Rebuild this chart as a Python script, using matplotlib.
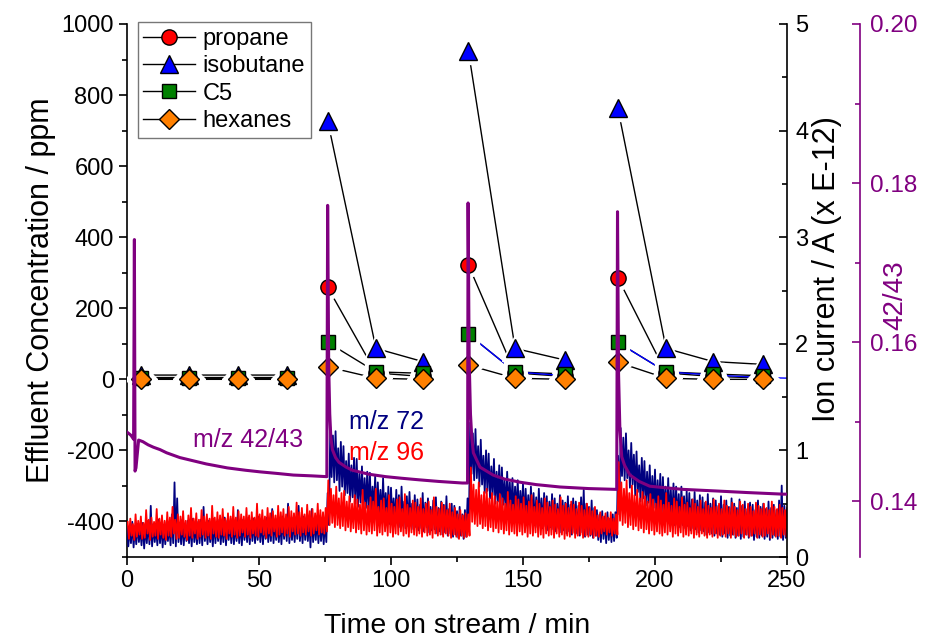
import numpy as np
import matplotlib
matplotlib.use("Agg")
import matplotlib.pyplot as plt
from matplotlib.ticker import MultipleLocator, FormatStrFormatter
from matplotlib.lines import Line2D

plt.rcParams['font.family'] = ['Liberation Sans', 'DejaVu Sans']
plt.rcParams['axes.unicode_minus'] = False

# ---------------- data ----------------
# GC injections (min); NaN separates the sampling groups
gc_time = [5.2, 23.3, 42.2, 60.5, np.nan, 76.0, 94.3, 112.0, np.nan,
           129.3, 147.0, 166.0, np.nan, 185.9, 204.2, 222.0, 241.0]
propane = [3, 3, 3, 3, np.nan, 259, 18, 8, np.nan, 322, 18, 8, np.nan, 286, 18, 8, 4]
isobutane = [12, 12, 12, 12, np.nan, 728, 87, 50, np.nan, 925, 87, 54, np.nan, 764, 87, 50, 42]
c5 = [5, 5, 5, 5, np.nan, 104, 21, 17, np.nan, 127, 21, 15, np.nan, 104, 21, 15, 10]
hexanes = [0, 0, 0, 0, np.nan, 35, 3, 0, np.nan, 40, 3, 0, np.nan, 48, 3, 0, 0]

# extra blue connecting line
blue_time = [129.3, 147.0, 166.0, np.nan, 185.9, 204.2, 222.0, 241.0, 252.0]
blue_vals = [127, 21, 10, np.nan, 104, 21, 12, 5, 3]

# ion currents (x E-12 A), per minute 0..250: upper / lower excursions
minutes = np.arange(0, 251)
m96_hi = [0.33,0.36,0.31,0.40,0.34,0.38,0.32,0.44,0.35,0.37,
          0.33,0.45,0.36,0.39,0.34,0.42,0.37,0.47,0.35,0.40,
          0.38,0.43,0.34,0.39,0.46,0.36,0.41,0.35,0.44,0.38,
          0.40,0.36,0.48,0.37,0.42,0.39,0.45,0.36,0.41,0.38,
          0.47,0.37,0.43,0.40,0.38,0.46,0.39,0.42,0.37,0.50,
          0.40,0.44,0.38,0.46,0.41,0.43,0.39,0.48,0.42,0.45,
          0.40,0.47,0.43,0.41,0.51,0.42,0.46,0.40,0.49,0.43,
          0.45,0.41,0.50,0.44,0.42,0.46,
          0.72,0.64,0.58,0.66,
          0.55,0.60,0.62,0.52,0.57,0.50,0.58,0.54,0.49,0.63,
          0.51,0.48,0.56,0.52,0.64,0.47,0.53,0.55,0.46,0.58,
          0.50,0.47,0.54,0.56,0.45,0.59,0.49,0.46,0.53,0.51,
          0.47,0.55,0.45,0.50,0.52,0.44,0.56,0.47,0.45,0.51,
          0.48,0.44,0.50,0.42,0.46,0.40,0.44,0.39,0.41,
          0.40,0.84,0.68,0.63,0.70,0.58,0.61,0.64,0.55,0.60,0.57,
          0.52,0.59,0.55,0.50,0.61,0.53,0.49,0.57,0.54,0.50,
          0.56,0.48,0.52,0.58,0.47,0.53,0.50,0.46,0.55,0.51,
          0.47,0.53,0.49,0.45,0.56,0.48,0.50,0.46,0.52,0.49,
          0.45,0.51,0.48,0.44,0.50,0.46,0.43,0.47,0.39,0.42,
          0.38,0.41,0.37,0.42,0.36,
          0.40,0.89,0.70,0.64,0.72,
          0.60,0.67,0.58,0.63,0.55,0.61,0.57,0.52,0.59,0.54,
          0.50,0.57,0.53,0.49,0.60,0.51,0.48,0.55,0.52,0.47,
          0.56,0.49,0.51,0.46,0.54,0.50,0.47,0.53,0.45,0.52,
          0.48,0.46,0.54,0.47,0.50,0.45,0.53,0.48,0.46,0.51,
          0.47,0.44,0.52,0.49,0.45,0.50,0.47,0.43,0.51,0.48,
          0.45,0.50,0.46,0.44,0.52,0.47,0.45,0.49,0.46,0.44,0.47]
m96_lo = [0.17,0.20,0.16,0.19,0.21,0.17,0.18,0.22,0.16,0.19,
          0.20,0.17,0.21,0.18,0.16,0.20,0.19,0.22,0.17,0.18,
          0.21,0.19,0.16,0.20,0.18,0.22,0.17,0.19,0.21,0.18,
          0.20,0.17,0.22,0.19,0.18,0.21,0.20,0.17,0.22,0.19,
          0.21,0.18,0.20,0.23,0.19,0.21,0.18,0.22,0.20,0.19,
          0.23,0.21,0.18,0.22,0.20,0.24,0.19,0.21,0.23,0.20,
          0.22,0.19,0.24,0.21,0.22,0.20,0.23,0.21,0.24,0.20,
          0.22,0.25,0.21,0.23,0.22,0.24,
          0.30,0.32,0.28,0.30,
          0.27,0.29,0.25,0.28,0.24,0.27,0.23,0.26,0.22,0.25,
          0.21,0.24,0.22,0.25,0.20,0.23,0.21,0.24,0.20,0.23,
          0.19,0.22,0.21,0.24,0.20,0.22,0.19,0.23,0.21,0.20,
          0.22,0.19,0.23,0.20,0.21,0.18,0.22,0.20,0.21,0.19,
          0.22,0.20,0.18,0.21,0.19,0.17,0.20,0.18,0.19,
          0.20,0.33,0.31,0.29,0.31,0.27,0.29,0.25,0.28,0.24,0.27,
          0.23,0.26,0.22,0.25,0.21,0.24,0.22,0.20,0.24,0.21,
          0.23,0.19,0.22,0.20,0.23,0.19,0.21,0.18,0.22,0.20,
          0.21,0.18,0.22,0.19,0.21,0.17,0.20,0.19,0.22,0.18,
          0.20,0.21,0.18,0.20,0.19,0.21,0.18,0.20,0.19,0.22,
          0.24,0.21,0.23,0.20,0.22,
          0.21,0.34,0.30,0.32,0.28,
          0.30,0.26,0.29,0.25,0.27,0.23,0.26,0.22,0.25,0.21,
          0.24,0.22,0.20,0.23,0.21,0.24,0.19,0.22,0.20,0.23,
          0.19,0.21,0.20,0.22,0.18,0.21,0.19,0.22,0.20,0.18,
          0.21,0.19,0.22,0.18,0.20,0.21,0.19,0.22,0.18,0.21,
          0.19,0.20,0.22,0.18,0.21,0.19,0.20,0.22,0.18,0.21,
          0.19,0.20,0.22,0.18,0.21,0.19,0.20,0.18,0.21,0.19,0.20]
m72_hi = [0.30,0.28,0.33,0.29,0.31,0.27,0.32,0.30,0.34,0.48,
          0.31,0.29,0.35,0.32,0.30,0.33,0.31,0.40,0.70,0.55,
          0.32,0.35,0.31,0.34,0.32,0.36,0.30,0.33,0.35,0.47,
          0.32,0.34,0.31,0.36,0.33,0.35,0.32,0.37,0.34,0.33,
          0.36,0.32,0.44,0.34,0.35,0.33,0.37,0.34,0.36,0.32,
          0.38,0.35,0.34,0.37,0.33,0.45,0.35,0.36,0.34,0.38,
          0.36,0.50,0.35,0.37,0.36,0.48,0.35,0.38,0.36,0.37,
          0.45,0.36,0.38,0.35,0.37,0.34,
          0.60,1.22,1.14,1.18,
          1.02,1.08,1.04,0.90,0.97,0.86,0.93,0.92,0.78,0.85,
          0.74,0.80,0.79,0.66,0.76,0.70,0.63,0.74,0.60,0.66,
          0.65,0.55,0.63,0.58,0.66,0.52,0.57,0.61,0.50,0.58,
          0.54,0.49,0.60,0.51,0.55,0.47,0.53,0.56,0.46,0.52,
          0.49,0.57,0.45,0.50,0.48,0.43,0.47,0.40,0.44,
          0.55,1.26,1.16,1.20,1.04,1.10,0.95,1.00,0.97,0.85,0.92,
          0.80,0.86,0.84,0.72,0.80,0.70,0.74,0.66,0.72,0.62,
          0.69,0.64,0.58,0.66,0.60,0.56,0.64,0.55,0.60,0.57,
          0.52,0.59,0.55,0.50,0.58,0.53,0.51,0.57,0.49,0.55,
          0.52,0.48,0.56,0.63,0.50,0.47,0.53,0.46,0.44,0.40,
          0.43,0.38,0.42,0.36,0.40,
          0.42,0.95,1.21,1.12,1.16,
          1.00,1.07,0.96,0.99,0.86,0.93,0.90,0.80,0.86,0.76,
          0.82,0.72,0.78,0.75,0.66,0.74,0.63,0.69,0.66,0.59,
          0.66,0.57,0.62,0.60,0.54,0.61,0.53,0.58,0.56,0.51,
          0.59,0.50,0.55,0.53,0.48,0.57,0.49,0.53,0.47,0.55,
          0.50,0.46,0.54,0.48,0.52,0.45,0.51,0.49,0.44,0.53,
          0.47,0.50,0.45,0.52,0.46,0.49,0.44,0.53,0.67,0.48,0.46]
m72_lo = [0.10,0.13,0.09,0.12,0.14,0.11,0.08,0.13,0.12,0.10,
          0.14,0.11,0.13,0.09,0.12,0.15,0.11,0.13,0.10,0.14,
          0.12,0.11,0.15,0.13,0.10,0.14,0.12,0.13,0.11,0.15,
          0.12,0.14,0.10,0.13,0.15,0.12,0.14,0.11,0.16,0.13,
          0.12,0.15,0.13,0.11,0.16,0.14,0.12,0.15,0.13,0.16,
          0.14,0.12,0.17,0.14,0.15,0.13,0.16,0.14,0.12,0.17,
          0.15,0.13,0.16,0.14,0.17,0.15,0.13,0.16,0.15,0.09,
          0.14,0.16,0.13,0.15,0.12,0.14,
          0.30,0.75,0.70,0.72,
          0.62,0.66,0.58,0.60,0.52,0.56,0.50,0.47,0.51,0.44,
          0.46,0.42,0.40,0.43,0.37,0.39,0.35,0.38,0.33,0.31,
          0.35,0.30,0.32,0.28,0.31,0.27,0.29,0.30,0.26,0.28,
          0.25,0.27,0.24,0.28,0.23,0.25,0.26,0.22,0.24,0.21,
          0.23,0.20,0.22,0.19,0.21,0.18,0.20,0.17,0.19,
          0.28,0.78,0.72,0.74,0.66,0.68,0.60,0.62,0.55,0.58,0.50,
          0.52,0.47,0.49,0.43,0.45,0.41,0.38,0.42,0.36,0.38,
          0.33,0.35,0.31,0.33,0.30,0.28,0.31,0.27,0.29,0.25,
          0.28,0.26,0.24,0.27,0.23,0.25,0.22,0.24,0.21,0.23,
          0.22,0.20,0.23,0.19,0.21,0.20,0.18,0.20,0.16,0.14,
          0.17,0.13,0.16,0.14,0.15,
          0.18,0.40,0.76,0.72,0.74,
          0.65,0.68,0.58,0.61,0.52,0.55,0.48,0.51,0.44,0.46,
          0.40,0.43,0.37,0.39,0.34,0.36,0.32,0.30,0.33,0.28,
          0.30,0.27,0.29,0.25,0.27,0.26,0.23,0.25,0.24,0.21,
          0.23,0.22,0.20,0.22,0.21,0.19,0.22,0.18,0.20,0.21,
          0.18,0.20,0.17,0.19,0.21,0.18,0.20,0.16,0.19,0.18,
          0.20,0.17,0.19,0.16,0.18,0.20,0.17,0.19,0.16,0.18,0.17]

# m/z 42/43 ratio
ratio_time = [0, 1.5, 2.5, 2.8, 3.05, 3.4, 4.4, 6, 8, 10, 12.5, 15, 20, 25, 30, 38, 45,
              50.5, 57, 63, 70, 75.7, 76.0, 76.4, 76.8, 77.2, 77.8, 79, 80.3, 83, 85.4,
              91.7, 98, 104, 110.7, 118, 127, 129.0, 129.2, 129.6, 130.1, 130.6, 131.2,
              133.7, 138.7, 143, 148.9, 155, 164, 175, 185.5, 185.8, 186.2, 186.7, 187.4,
              188.5, 190.5, 194, 198, 204, 210.6, 223.2, 235, 248.5, 250]
ratio_vals = [0.1487, 0.1483, 0.1478, 0.1729, 0.1438, 0.1442, 0.1477, 0.1475, 0.1471,
              0.1468, 0.1465, 0.1461, 0.1455, 0.1451, 0.1447, 0.1442, 0.1439, 0.1437,
              0.1435, 0.1433, 0.1432, 0.1431, 0.1772, 0.1570, 0.1510, 0.1481, 0.1465,
              0.1455, 0.1449, 0.1443, 0.1439, 0.1434, 0.1431, 0.1429, 0.1427, 0.1425,
              0.1423, 0.1423, 0.1775, 0.1580, 0.1510, 0.1480, 0.1461, 0.1443, 0.1433,
              0.1428, 0.1424, 0.1421, 0.1418, 0.1416, 0.1415, 0.1764, 0.1560, 0.1490,
              0.1456, 0.1445, 0.1433, 0.1425, 0.1419, 0.1417, 0.1415, 0.1413, 0.1411,
              0.1409, 0.1409]

# ---------------- styling ----------------
PURPLE = '#800080'
NAVY = '#000080'
RED = '#ff0000'

fig = plt.figure(figsize=(9.41, 6.44), dpi=100)
ax = fig.add_axes([127/941, 87/644, 660/941, 533/644])
ax2 = ax.twinx()
ax3 = ax.twinx()

# hydrocarbon series
series = [(propane, 'o', '#ff0000', 11, 'propane'),
          (isobutane, '^', '#0000ff', 13, 'isobutane'),
          (c5, 's', '#008000', 10, 'C5'),
          (hexanes, 'D', '#ff8000', 10, 'hexanes')]
handles = []
for vals, mk, col, ms, lab in series:
    ax.plot(gc_time, vals, '-', color='k', lw=1.0, zorder=2)
    ax.plot(gc_time, vals, ls='none', marker=mk, ms=ms + 6, mfc='white',
            mec='white', zorder=3)
    ax.plot(gc_time, vals, ls='none', marker=mk, ms=ms, mfc=col, mec='k',
            mew=1.0, zorder=4)
    handles.append(Line2D([], [], color='k', lw=1.0, marker=mk, ms=ms,
                          mfc=col, mec='k', mew=1.0, label=lab))
ax.plot(blue_time, blue_vals, '-', color='#0000ff', lw=1.0, zorder=2.5)

ax.set_xlim(0, 250)
ax.set_ylim(-500, 1000)
ax.xaxis.set_major_locator(MultipleLocator(50))
ax.xaxis.set_minor_locator(MultipleLocator(25))
ax.yaxis.set_major_locator(MultipleLocator(200))
ax.yaxis.set_minor_locator(MultipleLocator(100))
ax.tick_params(which='major', direction='out', length=6, width=1.2, labelsize=17)
ax.tick_params(which='minor', direction='out', length=3.5, width=1.2)
ax.spines['top'].set_visible(False)
ax.spines['right'].set_visible(False)
for s in ('left', 'bottom'):
    ax.spines[s].set_linewidth(1.2)
ax.set_xlabel('Time on stream / min', fontsize=20.5, labelpad=15)
ax.set_ylabel('Effluent Concentration / ppm', fontsize=22, labelpad=4)

leg = ax.legend(handles=handles, loc='upper left', bbox_to_anchor=(0.016, 1.003),
                fontsize=17, frameon=True, fancybox=False, edgecolor='#555555',
                handlelength=2.2, handletextpad=0.3, labelspacing=0.22,
                borderpad=0.25, borderaxespad=0.0)
leg.get_frame().set_linewidth(1.0)
leg.set_zorder(10)

# ion currents
t_navy = np.column_stack([minutes, minutes + 0.5]).ravel()
t_red = np.column_stack([minutes + 0.25, minutes + 0.75]).ravel()
ax2.plot(t_navy, np.column_stack([m72_hi, m72_lo]).ravel(), color=NAVY, lw=1.3)
ax2.plot(t_red, np.column_stack([m96_hi, m96_lo]).ravel(), color=RED, lw=1.3)
ax2.set_ylim(0, 5)
ax2.yaxis.set_major_locator(MultipleLocator(1))
ax2.yaxis.set_minor_locator(MultipleLocator(0.5))
ax2.tick_params(which='major', direction='in', length=6, width=1.2, labelsize=17, pad=6)
ax2.tick_params(which='minor', direction='in', length=3.5, width=1.2)
for s in ('top', 'left', 'bottom'):
    ax2.spines[s].set_visible(False)
ax2.spines['right'].set_linewidth(1.2)
ax2.set_ylabel('Ion current / A (x E-12)', fontsize=22)
ax2.yaxis.set_label_coords((812 - 127) / 660, 0.54)

# 42/43 ratio
ax3.plot(ratio_time, ratio_vals, color=PURPLE, lw=2.2)
ax3.set_ylim(0.133, 0.20)
ax3.spines['right'].set_position(('axes', 1 + 73/660))
for s in ('top', 'left', 'bottom'):
    ax3.spines[s].set_visible(False)
ax3.spines['right'].set_color(PURPLE)
ax3.spines['right'].set_linewidth(1.2)
ax3.yaxis.set_major_locator(MultipleLocator(0.02))
ax3.yaxis.set_minor_locator(MultipleLocator(0.01))
ax3.yaxis.set_major_formatter(FormatStrFormatter('%.2f'))
ax3.tick_params(which='major', direction='in', length=6, width=1.2, labelsize=17.5,
                color=PURPLE, labelcolor=PURPLE, pad=7)
ax3.tick_params(which='minor', direction='in', length=3.5, width=1.2, color=PURPLE)
ax3.set_ylabel('42/43', fontsize=20, color=PURPLE)
ax3.yaxis.set_label_coords((882 - 127) / 660, 0.492)

# annotations
ax.text(25, -171, 'm/z 42/43', color=PURPLE, fontsize=18, va='center', ha='left')
ax.text(84, -120, 'm/z 72', color=NAVY, fontsize=18, va='center', ha='left')
ax.text(84, -207, 'm/z 96', color=RED, fontsize=18, va='center', ha='left')

fig.savefig('out.png', dpi=100)
